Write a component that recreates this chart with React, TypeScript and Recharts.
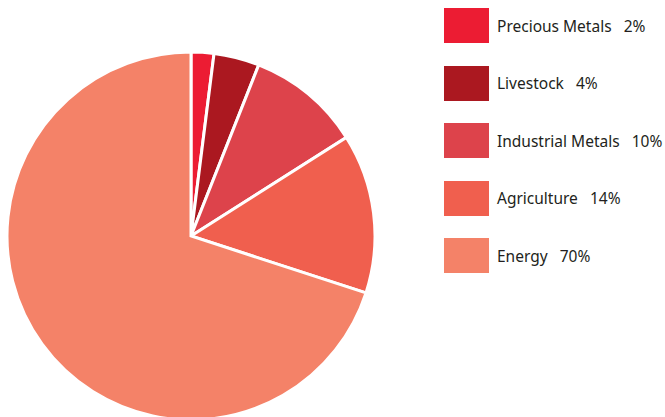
import { Cell, Legend, Pie, PieChart } from 'recharts'

const CATEGORIES = ['Precious Metals', 'Livestock', 'Industrial Metals', 'Agriculture', 'Energy']
const SHARES = [2, 4, 10, 14, 70]
const COLORS = ['#EC1C33', '#AB1820', '#DD434B', '#F05F4E', '#F48268']

const data = CATEGORIES.map((name, i) => ({ name, value: SHARES[i] }))

function LegendList() {
    return (
        <div>
            {data.map((d, i) => (
                <div
                    key={d.name}
                    style={{ display: 'flex', alignItems: 'center', height: 35, marginBottom: i < data.length - 1 ? 22.5 : 0 }}
                >
                    <div style={{ width: 45, height: 35, background: COLORS[i] }} />
                    <span style={{ marginLeft: 8, fontSize: 15.5, color: '#231f20', whiteSpace: 'pre' }}>
                        {d.name}
                        {'   '}
                        {d.value}%
                    </span>
                </div>
            ))}
        </div>
    )
}

export default function App() {
    return (
        <div style={{ position: 'absolute', left: 0, top: 0, fontFamily: '"Noto Sans", sans-serif' }}>
            <PieChart width={665} height={417} margin={{ top: 0, right: 0, bottom: 0, left: 0 }}>
                <Pie
                    data={data}
                    dataKey="value"
                    nameKey="name"
                    cx={191}
                    cy={236}
                    outerRadius={184}
                    startAngle={90}
                    endAngle={-270}
                    stroke="#ffffff"
                    strokeWidth={3}
                    isAnimationActive={false}
                >
                    {data.map((d, i) => (
                        <Cell key={`cell-${d.name}`} fill={COLORS[i]} />
                    ))}
                </Pie>
                <Legend
                    content={() => <LegendList />}
                    wrapperStyle={{ left: 444, top: 8, width: 221 }}
                />
            </PieChart>
        </div>
    )
}
